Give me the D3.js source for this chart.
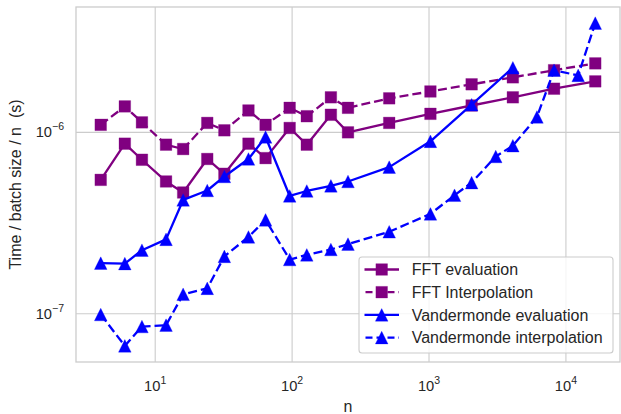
<!DOCTYPE html>
<html>
<head>
<meta charset="utf-8">
<script src="https://cdn.jsdelivr.net/npm/d3@7"></script>
<style>
  html, body { margin: 0; padding: 0; background: #fff; }
  svg text { font-family: "Liberation Sans", Arial, sans-serif; fill: #262626; white-space: pre; }
</style>
</head>
<body>
<svg id="chart" width="621" height="414"></svg>
<script>
// Problem sizes
const nFFT = [4, 6, 8, 12, 16, 24, 32, 48, 64, 96, 128, 192, 256, 512, 1024, 2048, 4096, 8192, 16384];
const nVandEval = [4, 6, 8, 12, 16, 24, 32, 48, 64, 96, 128, 192, 256, 512, 1024, 2048, 4096];
const nVandInterp = [4, 6, 8, 12, 16, 24, 32, 48, 64, 96, 128, 192, 256, 512, 1024, 1536, 2048, 3072, 4096, 6144, 8192, 12288, 16384];

// Time per batch element per n (seconds)
const fftEvaluation = [5.47e-7, 8.66e-7, 7.06e-7, 5.36e-7, 4.66e-7, 7.13e-7, 5.91e-7, 8.66e-7, 7.21e-7, 1.057e-6, 8.55e-7,
  1.25e-6, 1.0e-6, 1.127e-6, 1.265e-6, 1.406e-6, 1.56e-6, 1.74e-6, 1.91e-6];
const fftInterpolation = [1.1e-6, 1.39e-6, 1.135e-6, 8.55e-7, 8.09e-7, 1.127e-6, 1.026e-6, 1.32e-6, 1.1e-6, 1.365e-6, 1.227e-6,
  1.56e-6, 1.365e-6, 1.54e-6, 1.68e-6, 1.84e-6, 2.01e-6, 2.2e-6, 2.4e-6];
const vandEvaluation = [1.9e-7, 1.89e-7, 2.24e-7, 2.57e-7, 4.24e-7, 4.78e-7, 5.71e-7, 7.13e-7, 9.43e-7, 4.46e-7, 4.75e-7,
  5.07e-7, 5.36e-7, 6.43e-7, 8.92e-7, 1.42e-6, 2.27e-6];
const vandInterpolation = [9.9e-8, 6.65e-8, 8.5e-8, 8.65e-8, 1.28e-7, 1.38e-7, 2.07e-7, 2.65e-7, 3.29e-7, 1.99e-7, 2.11e-7,
  2.26e-7, 2.42e-7, 2.83e-7, 3.55e-7, 4.5e-7, 5.28e-7, 7.36e-7, 8.44e-7, 1.216e-6, 2.2e-6, 2.06e-6, 4.0e-6];

const seriesNames = ["FFT evaluation", "FFT Interpolation", "Vandermonde evaluation", "Vandermonde interpolation"];
const xTickExps = [1, 2, 3, 4];
const yTickExps = [-7, -6];

const series = [
  { name: seriesNames[0], xs: nFFT, ys: fftEvaluation, color: "#800080", marker: "square", dashed: false },
  { name: seriesNames[1], xs: nFFT, ys: fftInterpolation, color: "#800080", marker: "square", dashed: true },
  { name: seriesNames[2], xs: nVandEval, ys: vandEvaluation, color: "#0000ff", marker: "triangle", dashed: false },
  { name: seriesNames[3], xs: nVandInterp, ys: vandInterpolation, color: "#0000ff", marker: "triangle", dashed: true }
];

const svg = d3.select("#chart");
const plot = { left: 76, top: 7, right: 620, bottom: 362 };

// Log-space padding of 5% on each side of the data range
function paddedLogDomain(values) {
  const lo = Math.log10(d3.min(values)), hi = Math.log10(d3.max(values));
  const pad = (hi - lo) * 0.05;
  return [Math.pow(10, lo - pad), Math.pow(10, hi + pad)];
}
const allX = series.flatMap(s => s.xs);
const allY = series.flatMap(s => s.ys);

const x = d3.scaleLog().domain(paddedLogDomain(allX)).range([plot.left, plot.right]);
const y = d3.scaleLog().domain(paddedLogDomain(allY)).range([plot.bottom, plot.top]);

const gridColor = "#cccccc";

// Grid lines
const grid = svg.append("g");
grid.selectAll(".gx").data(xTickExps).join("line")
  .attr("x1", d => x(Math.pow(10, d))).attr("x2", d => x(Math.pow(10, d)))
  .attr("y1", plot.top).attr("y2", plot.bottom)
  .attr("stroke", gridColor).attr("stroke-width", 1.1);
grid.selectAll(".gy").data(yTickExps).join("line")
  .attr("x1", plot.left).attr("x2", plot.right)
  .attr("y1", d => y(Math.pow(10, d))).attr("y2", d => y(Math.pow(10, d)))
  .attr("stroke", gridColor).attr("stroke-width", 1.1);

// Axis frame
svg.append("rect")
  .attr("x", plot.left).attr("y", plot.top)
  .attr("width", plot.right - plot.left).attr("height", plot.bottom - plot.top)
  .attr("fill", "none").attr("stroke", gridColor).attr("stroke-width", 1.3);

// Tick labels as 10^k
const tickSize = 14.7;
const xt = svg.append("g").selectAll("text").data(xTickExps).join("text")
  .attr("x", d => x(Math.pow(10, d)))
  .attr("y", 391)
  .attr("text-anchor", "middle")
  .style("font-size", tickSize + "px");
xt.append("tspan").text("10");
xt.append("tspan").attr("dy", -7).style("font-size", "10.5px").text(d => String(d));

const yt = svg.append("g").selectAll("text").data(yTickExps).join("text")
  .attr("x", 64)
  .attr("y", d => y(Math.pow(10, d)) + 5)
  .attr("text-anchor", "end")
  .style("font-size", tickSize + "px");
yt.append("tspan").text("10");
yt.append("tspan").attr("dy", -7).style("font-size", "10.5px").text(d => "\u2212" + Math.abs(d));

// Axis labels
svg.append("text")
  .attr("x", (plot.left + plot.right) / 2).attr("y", 412)
  .attr("text-anchor", "middle").style("font-size", "16px").text("n");
svg.append("text")
  .attr("transform", `translate(21,${(plot.top + plot.bottom) / 2}) rotate(-90)`)
  .attr("text-anchor", "middle").style("font-size", "16px")
  .text("Time / batch size / n  (s)");

// Clip region for lines
svg.append("clipPath").attr("id", "plotClip").append("rect")
  .attr("x", plot.left).attr("y", plot.top)
  .attr("width", plot.right - plot.left).attr("height", plot.bottom - plot.top);

const squareSym = d3.symbol().type(d3.symbolSquare).size(135);
const triPath = "M0,-6.3L6.3,6.3L-6.3,6.3Z";
function drawMarker(g, kind, cx, cy, color) {
  g.append("path")
    .attr("d", kind === "square" ? squareSym() : triPath)
    .attr("transform", `translate(${cx},${cy})`)
    .attr("fill", color)
    .attr("stroke", color).attr("stroke-width", 0.6).attr("stroke-opacity", 0.5);
}

const line = d3.line().x(d => x(d[0])).y(d => y(d[1]));
const dashPattern = "9,4";

series.forEach(s => {
  const g = svg.append("g");
  const pts = s.xs.map((v, i) => [v, s.ys[i]]);
  g.append("path")
    .attr("clip-path", "url(#plotClip)")
    .attr("d", line(pts))
    .attr("fill", "none")
    .attr("stroke", s.color)
    .attr("stroke-width", 2.3)
    .attr("stroke-linejoin", "round")
    .attr("stroke-dasharray", s.dashed ? dashPattern : null);
  pts.forEach(p => drawMarker(g, s.marker, x(p[0]), y(p[1]), s.color));
});

// Legend
const lg = svg.append("g");
const lx = 359, ly = 257, lw = 254, lh = 96;
lg.append("rect")
  .attr("x", lx).attr("y", ly).attr("width", lw).attr("height", lh)
  .attr("rx", 3).attr("ry", 3)
  .attr("fill", "#ffffff").attr("fill-opacity", 0.8)
  .attr("stroke", gridColor).attr("stroke-width", 1.1);
series.forEach((s, i) => {
  const cy = 269.5 + i * 22.7;
  lg.append("line")
    .attr("x1", 364.5).attr("x2", 399).attr("y1", cy).attr("y2", cy)
    .attr("stroke", s.color).attr("stroke-width", 2.3)
    .attr("stroke-dasharray", s.dashed ? "7,4" : null)
    .attr("stroke-dashoffset", s.dashed ? -1 : null);
  drawMarker(lg, s.marker, 381.7, cy, s.color);
  lg.append("text")
    .attr("x", 411.7).attr("y", cy + 5.8)
    .style("font-size", "16px")
    .text(s.name);
});
</script>
</body>
</html>
